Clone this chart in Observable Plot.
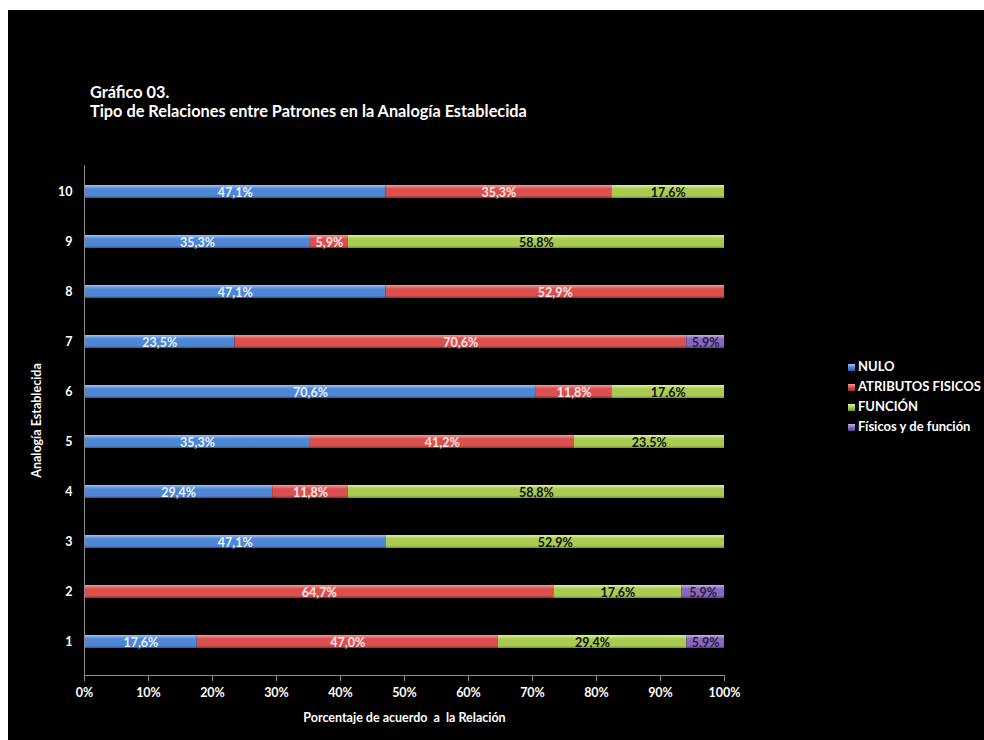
<!DOCTYPE html>
<html>
<head>
<meta charset="utf-8">
<script src="https://cdn.jsdelivr.net/npm/d3@7"></script>
<script src="https://cdn.jsdelivr.net/npm/@observablehq/plot@0.6"></script>
<style>
  html, body { margin: 0; padding: 0; background: #fff; width: 984px; height: 740px; overflow: hidden; }
  #panel { position: absolute; left: 8px; top: 10px; width: 976px; height: 730px; background: #000; font-family: Lato, "Open Sans", sans-serif; }
  #title { position: absolute; left: 82px; top: 72px; color: #fff; font-weight: bold; font-size: 16.3px; line-height: 19px; }
  #chart { position: absolute; left: 0px; top: 140px; }
  #legend { position: absolute; left: 840px; top: 346px; color: #fff; font-weight: bold; font-size: 13px; }
  .item { height: 20px; line-height: 20px; white-space: nowrap; }
  .sw { display: inline-block; width: 7px; height: 7px; margin-right: 3px; vertical-align: 0px; }
</style>
</head>
<body>
<div id="panel">
  <div id="title">Gráfico 03.<br>Tipo de Relaciones entre Patrones en la Analogía Establecida</div>
  <div id="chart"></div>
  <div id="legend"></div>
</div>
<script>
const categories = ["10", "9", "8", "7", "6", "5", "4", "3", "2", "1"];
const seriesNames = ["NULO", "ATRIBUTOS FISICOS", "FUNCIÓN", "Físicos y de función"];
const nulo      = [47.1, 35.3, 47.1, 23.5, 70.6, 35.3, 29.4, 47.1, 0,    17.6];
const atributos = [35.3, 5.9,  52.9, 70.6, 11.8, 41.2, 11.8, 0,    64.7, 47.0];
const funcion   = [17.6, 58.8, 0,    0,    17.6, 23.5, 58.8, 52.9, 17.6, 29.4];
const ambos     = [0,    0,    0,    5.9,  0,    0,    0,    0,    5.9,  5.9];
const xTicks = [0, 0.1, 0.2, 0.3, 0.4, 0.5, 0.6, 0.7, 0.8, 0.9, 1];

const seriesValues = [nulo, atributos, funcion, ambos];
const grads = [
  {id: "gBlue",   top: "#9cc2f2", mid: "#4f87d6", bot: "#2e5d9e", label: "#e8f0ff"},
  {id: "gRed",    top: "#f29a98", mid: "#d9504e", bot: "#9e2f2d", label: "#ffe8e8"},
  {id: "gGreen",  top: "#dcef9c", mid: "#a9cb52", bot: "#78952f", label: "#111111"},
  {id: "gPurple", top: "#c2aee6", mid: "#8768bd", bot: "#57408a", label: "#2b1d47"}
];

const data = [];
categories.forEach((c, i) => {
  seriesNames.forEach((s, j) => {
    const v = seriesValues[j][i];
    if (v > 0) data.push({cat: c, series: s, value: v, idx: j});
  });
});
const fmt = v => v.toFixed(1).replace(".", ",") + "%";

const svg = Plot.plot({
  width: 760,
  height: 590,
  marginLeft: 76,
  marginRight: 44,
  marginTop: 15,
  marginBottom: 65,
  style: {background: "transparent", color: "#fff", fontFamily: "Lato, 'Open Sans', sans-serif", fontSize: "12.5px", overflow: "visible"},
  x: {domain: [0, 1]},
  y: {domain: categories, paddingInner: 0.74, paddingOuter: 0.368, insetBottom: 8},
  color: {domain: seriesNames, range: grads.map(g => `url(#${g.id})`)},
  marks: [
    Plot.barX(data, Plot.stackX({offset: "normalize", x: "value", y: "cat", z: "idx", order: "idx", fill: "series"})),
    Plot.text(data, Plot.stackX({offset: "normalize", x: "value", y: "cat", z: "idx", order: "idx",
      text: d => fmt(d.value), fill: d => grads[d.idx].label, fontWeight: "bold", fontSize: 12.5, dy: 1})),
    Plot.frame({anchor: "bottom", stroke: "#8a8a8a"}),
    Plot.frame({anchor: "left", stroke: "#8a8a8a"}),
    Plot.axisX({ticks: xTicks, tickFormat: d3.format(".0%"), tickSize: 6, tickPadding: 7, stroke: "#8a8a8a",
      fill: "#fff", fontWeight: "bold", label: "Porcentaje de acuerdo  a  la Relación", labelAnchor: "center", labelArrow: "none", labelOffset: 46}),
    Plot.axisY({tickSize: 0, tickPadding: 12, fill: "#fff", fontWeight: "bold",
      label: "Analogía Establecida", labelAnchor: "center", labelArrow: "none", labelOffset: 52})
  ]
});

const defs = d3.select(svg).insert("defs", ":first-child");
grads.forEach(g => {
  const lg = defs.append("linearGradient").attr("id", g.id).attr("x1", 0).attr("y1", 0).attr("x2", 0).attr("y2", 1);
  lg.append("stop").attr("offset", "0%").attr("stop-color", g.top);
  lg.append("stop").attr("offset", "30%").attr("stop-color", g.mid);
  lg.append("stop").attr("offset", "80%").attr("stop-color", g.mid);
  lg.append("stop").attr("offset", "100%").attr("stop-color", g.bot);
});
d3.select(svg).selectAll("[aria-label='x-axis label'] text, [aria-label='y-axis label'] text").attr("font-weight", "bold");
document.getElementById("chart").appendChild(svg);

const legend = document.getElementById("legend");
seriesNames.forEach((s, j) => {
  const g = grads[j];
  const item = document.createElement("div");
  item.className = "item";
  const sw = document.createElement("span");
  sw.className = "sw";
  sw.style.background = `linear-gradient(${g.top}, ${g.mid} 50%, ${g.bot})`;
  item.appendChild(sw);
  item.appendChild(document.createTextNode(s));
  legend.appendChild(item);
});
</script>
</body>
</html>
